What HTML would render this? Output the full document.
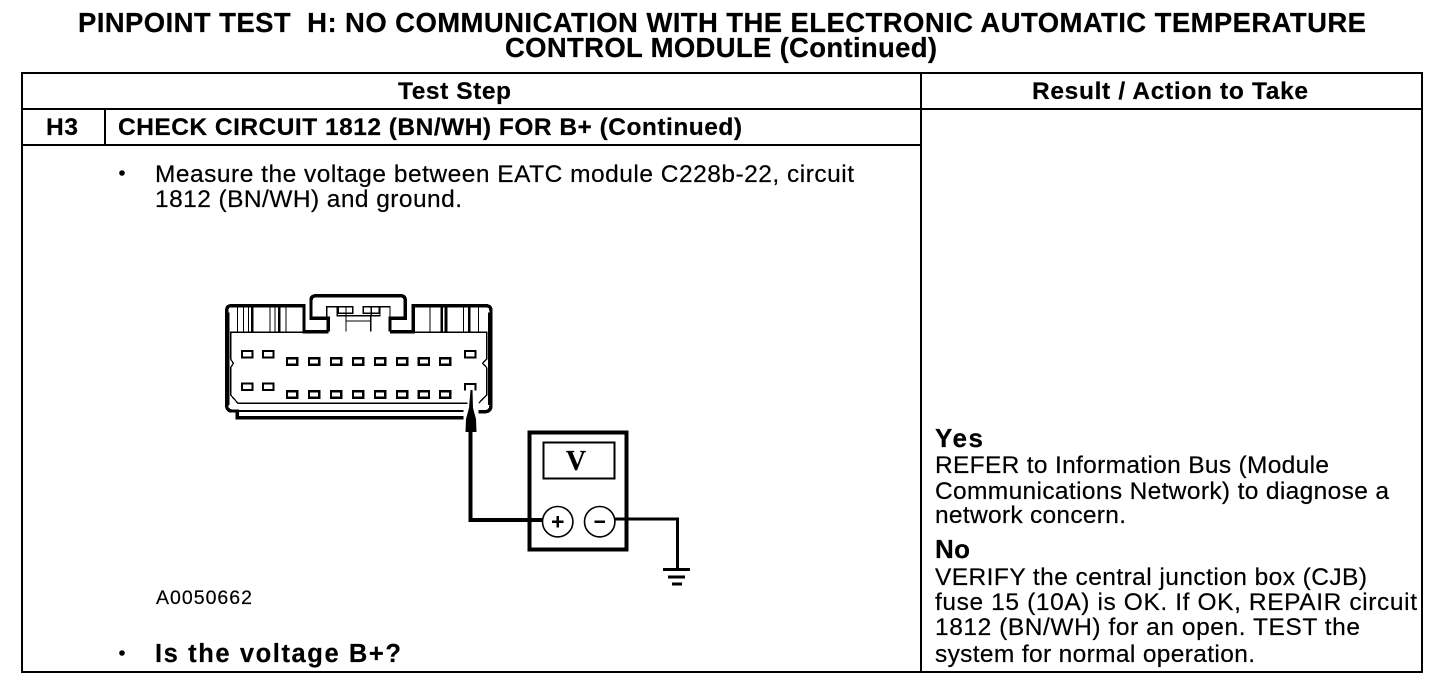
<!DOCTYPE html>
<html><head><meta charset="utf-8"><style>
html,body{margin:0;padding:0;background:#fff;width:1456px;height:688px;overflow:hidden}
svg{display:block}
text{font-family:"Liberation Sans",sans-serif;fill:#000;stroke:#000;stroke-width:.2px}
.b{font-weight:bold}
.t{font-size:27.5px;font-weight:bold}
.h{font-size:24.5px;font-weight:bold}
.n{font-size:24.5px}
</style></head><body>
<svg width="1456" height="688" viewBox="0 0 1456 688" xmlns="http://www.w3.org/2000/svg">
<text class="t" x="78" y="32" textLength="1288" lengthAdjust="spacing">PINPOINT TEST&#160; H: NO COMMUNICATION WITH THE ELECTRONIC AUTOMATIC TEMPERATURE</text>
<text class="t" x="505" y="57" textLength="432" lengthAdjust="spacing">CONTROL MODULE (Continued)</text>

<g fill="none" stroke="#000" stroke-width="2" shape-rendering="crispEdges">
<rect x="22" y="73" width="1400" height="599"/>
<path d="M22 109H1422M22 145H921M105 109V145M921 73V672"/>
</g>

<text class="h" x="398" y="99" textLength="113" lengthAdjust="spacing">Test Step</text>
<text class="h" x="1032" y="99" textLength="276" lengthAdjust="spacing">Result / Action to Take</text>
<text class="h" x="46" y="135" textLength="32" lengthAdjust="spacing">H3</text>
<text class="h" x="118" y="135" textLength="624" lengthAdjust="spacing">CHECK CIRCUIT 1812 (BN/WH) FOR B+ (Continued)</text>

<circle cx="122" cy="173" r="2.8" fill="#000"/>
<text class="n" x="155" y="182" textLength="699" lengthAdjust="spacing">Measure the voltage between EATC module C228b-22, circuit</text>
<text class="n" x="155" y="207" textLength="307" lengthAdjust="spacing">1812 (BN/WH) and ground.</text>
<text x="156" y="604" font-size="19.5" textLength="96" lengthAdjust="spacing">A0050662</text>
<circle cx="122" cy="653" r="2.8" fill="#000"/>
<text class="b" x="155" y="662" font-size="25.5" textLength="246" lengthAdjust="spacing">Is the voltage B+?</text>

<text class="b" x="935" y="447" font-size="26" textLength="48" lengthAdjust="spacing">Yes</text>
<text class="n" x="935" y="473" textLength="394" lengthAdjust="spacing">REFER to Information Bus (Module</text>
<text class="n" x="935" y="499" textLength="454" lengthAdjust="spacing">Communications Network) to diagnose a</text>
<text class="n" x="935" y="523" textLength="191" lengthAdjust="spacing">network concern.</text>
<text class="b" x="935" y="558" font-size="26" textLength="35" lengthAdjust="spacing">No</text>
<text class="n" x="935" y="585" textLength="432" lengthAdjust="spacing">VERIFY the central junction box (CJB)</text>
<text class="n" x="935" y="610" textLength="482" lengthAdjust="spacing">fuse 15 (10A) is OK. If OK, REPAIR circuit</text>
<text class="n" x="935" y="635" textLength="425" lengthAdjust="spacing">1812 (BN/WH) for an open. TEST the</text>
<text class="n" x="935" y="662" textLength="320" lengthAdjust="spacing">system for normal operation.</text>

<!-- connector, drawn in 3x zoom coordinates -->
<g transform="translate(210 285) scale(0.33333)" fill="none" stroke="#000" shape-rendering="crispEdges">
<path stroke-width="10" d="M355 140H282V62H64Q50 62 50 78V360Q50 378 66 378H82V398H760"/>
<path stroke-width="10" d="M540 140H610V62H828Q843 62 843 78V360Q843 378 828 380H806"/>
<path stroke-width="14" d="M52 82V360M841 82V360"/>
<path stroke-width="10" d="M355 140V100H303V46Q303 32 320 32H570Q586 32 586 46V100H540V140"/>
<path stroke-width="6" d="M82 378H760"/>
<path stroke-width="4" d="M355 142H62V222L70 235L62 248V330L84 355H772M540 142H830V222L818 235L830 248V330L806 355"/>
<path stroke-width="4" d="M350 98V65H382V92H510V65H540V98M408 92V140M482 92V140M408 108H482M385 65H428V85H385ZM460 65H508V85H460ZM408 65V90M484 65V90"/>
<path stroke-width="3" d="M82 62V140M100 62V140M115 62V140M180 62V140M195 62V140M228 62V140M660 62V140M760 62V140M805 62V140"/>
<path stroke-width="8" d="M127 62V140M208 62V140M695 62V140M708 62V140M778 62V140"/>
<g stroke-width="6">
<rect x="96" y="198" width="32" height="19"/><rect x="159" y="198" width="32" height="19"/>
<rect x="765" y="198" width="31" height="19"/>
<rect x="96" y="296" width="32" height="19"/><rect x="159" y="296" width="32" height="19"/>
<path d="M765 316V297H796V316"/>
</g>
<g stroke-width="7">
<rect x="231" y="220" width="31" height="19"/><rect x="297" y="220" width="31" height="19"/><rect x="363" y="220" width="31" height="19"/><rect x="429" y="220" width="31" height="19"/><rect x="495" y="220" width="31" height="19"/><rect x="561" y="220" width="31" height="19"/><rect x="626" y="220" width="31" height="19"/><rect x="690" y="220" width="31" height="19"/>
<rect x="231" y="319" width="31" height="19"/><rect x="297" y="319" width="31" height="19"/><rect x="363" y="319" width="31" height="19"/><rect x="429" y="319" width="31" height="19"/><rect x="495" y="319" width="31" height="19"/><rect x="561" y="319" width="31" height="19"/><rect x="626" y="319" width="31" height="19"/><rect x="690" y="319" width="31" height="19"/>
</g>
</g>

<!-- probe -->
<path d="M470.5 390L472.5 390L473 408L476 419L476.5 432H465.5L466 419L469 408Z" fill="#000"/>
<path d="M470.5 432V520H543" fill="none" stroke="#000" stroke-width="4.4" shape-rendering="crispEdges"/>

<!-- meter -->
<rect x="529.5" y="432.5" width="97" height="117" fill="none" stroke="#000" stroke-width="4" shape-rendering="crispEdges"/>
<path d="M470.5 520H543" fill="none" stroke="#000" stroke-width="4.4" shape-rendering="crispEdges"/>
<rect x="543.5" y="442.5" width="71" height="36" fill="#fff" stroke="#000" stroke-width="1.6" shape-rendering="crispEdges"/>
<text x="576" y="470" font-size="28" font-weight="bold" text-anchor="middle" style="font-family:'Liberation Serif',serif">V</text>
<circle cx="557.7" cy="521.7" r="15.2" fill="#fff" stroke="#000" stroke-width="1.6"/>
<circle cx="599.7" cy="521.7" r="15.2" fill="#fff" stroke="#000" stroke-width="1.6"/>
<path d="M552 521.7H563.4M557.7 516V527.4M594.5 521.7H605" fill="none" stroke="#000" stroke-width="2.6" shape-rendering="crispEdges"/>
<path d="M615 519H677.7V568" fill="none" stroke="#000" stroke-width="3" shape-rendering="crispEdges"/>
<path d="M663 569.5H690M668 577H685M672 584H682" fill="none" stroke="#000" stroke-width="2.8" shape-rendering="crispEdges"/>
</svg>
</body></html>
